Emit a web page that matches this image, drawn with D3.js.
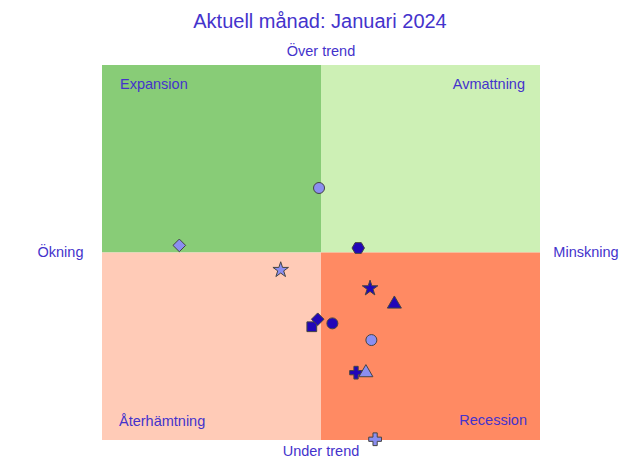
<!DOCTYPE html>
<html><head><meta charset="utf-8">
<script src="https://cdn.jsdelivr.net/npm/d3@7"></script>
<style>html,body{margin:0;padding:0;background:#fff;}svg{display:block;font-family:"Liberation Sans",Arial,sans-serif;}</style>
</head><body>
<svg id="c" width="632" height="459"></svg>
<script>
const title = "Aktuell månad: Januari 2024";
const axisLabels = {top:"Över trend", bottom:"Under trend", left:"Ökning", right:"Minskning"};
const quadrantNames = ["Expansion","Avmattning","Återhämtning","Recession"];
const xValues = [-0.009, 0.170, -0.184, 0.224, 0.335, -0.042, -0.015, 0.052, 0.230, 0.160, 0.205, 0.247, -0.647];
const yValues = [0.344, 0.024, -0.093, -0.191, -0.275, -0.396, -0.356, -0.378, -0.467, -0.641, -0.641, -0.996, 0.038];
const shapes  = ["circle","hexagon","star","star","triangle","square","diamond","circle","circle","cross","triangle","cross","diamond"];
const shades  = ["light","dark","light","dark","dark","dark","dark","dark","light","dark","light","light","light"];

const svg = d3.select("#c");
const textColor = "#4433cc";
const x = d3.scaleLinear().domain([-1,1]).range([102,540]);
const y = d3.scaleLinear().domain([-1,1]).range([440,65]);

const quads = [
  {x0:-1,x1:0,y0:0,y1:1,fill:"#88cc77"},
  {x0:0,x1:1,y0:0,y1:1,fill:"#cdf0b5"},
  {x0:-1,x1:0,y0:-1,y1:0,fill:"#ffcbb7"},
  {x0:0,x1:1,y0:-1,y1:0,fill:"#ff8a63"}
];
svg.selectAll("rect.q").data(quads).join("rect").attr("class","q")
  .attr("x",d=>x(d.x0)).attr("y",d=>y(d.y1))
  .attr("width",d=>x(d.x1)-x(d.x0)).attr("height",d=>y(d.y0)-y(d.y1))
  .attr("fill",d=>d.fill);

svg.append("text").attr("x",320).attr("y",28).attr("text-anchor","middle")
  .attr("font-size",20).attr("fill",textColor).text(title);

const lab = (tx,ty,anchor,t)=>svg.append("text").attr("x",tx).attr("y",ty)
  .attr("text-anchor",anchor).attr("font-size",14.5).attr("fill",textColor).text(t);
lab(x(0),56,"middle",axisLabels.top);
lab(x(0),456,"middle",axisLabels.bottom);
lab(60.5,257,"middle",axisLabels.left);
lab(586,257,"middle",axisLabels.right);
lab(x(-1)+18,89,"start",quadrantNames[0]);
lab(x(1)-15,89,"end",quadrantNames[1]);
lab(x(-1)+17,426,"start",quadrantNames[2]);
lab(x(1)-13,425,"end",quadrantNames[3]);

const hexagon = {draw(ctx,size){const r=Math.sqrt(size/(3*Math.sqrt(3)/2));
  for(let i=0;i<6;i++){const a=Math.PI/3*i;const px=r*Math.cos(a),py=r*Math.sin(a);i?ctx.lineTo(px,py):ctx.moveTo(px,py);}ctx.closePath();}};
const diamond = {draw(ctx,size){const r=Math.sqrt(size/2);
  ctx.moveTo(0,-r);ctx.lineTo(r,0);ctx.lineTo(0,r);ctx.lineTo(-r,0);ctx.closePath();}};
const symType = {circle:d3.symbolCircle, hexagon:hexagon, star:d3.symbolStar, triangle:d3.symbolTriangle,
  square:d3.symbolSquare, diamond:diamond, cross:d3.symbolCross};
const symSize = {circle:95, hexagon:100, star:75, triangle:85, square:95, diamond:80, cross:90};
const fills = {light:"#8b8ef0", dark:"#2106b8"};

const pts = xValues.map((v,i)=>({x:v,y:yValues[i],s:shapes[i],c:shades[i]}));
svg.selectAll("path.m").data(pts).join("path").attr("class","m")
  .attr("transform",d=>`translate(${x(d.x)},${y(d.y)})`)
  .attr("d",d=>d3.symbol().type(symType[d.s]).size(symSize[d.s])())
  .attr("fill",d=>fills[d.c]).attr("stroke","#444").attr("stroke-width",1);
</script>
</body></html>
